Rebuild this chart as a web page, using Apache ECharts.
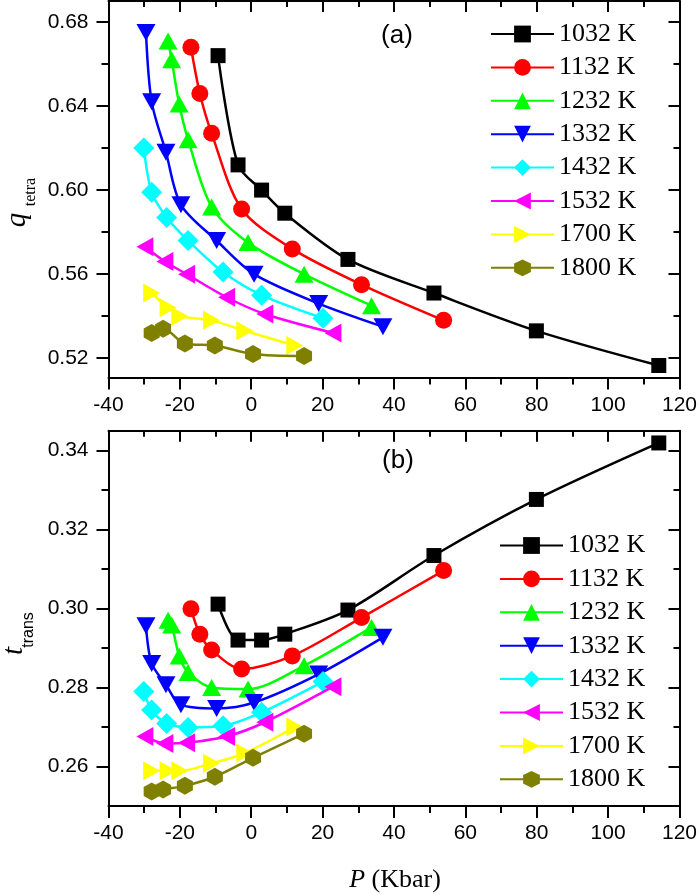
<!DOCTYPE html>
<html>
<head>
<meta charset="utf-8">
<script src="https://cdn.jsdelivr.net/npm/echarts@6/dist/echarts.min.js"></script>
<style>html,body{margin:0;padding:0;background:#fff}#c{width:700px;height:895px}</style>
</head>
<body>
<div id="c"></div>
<script>
// ---------------- data ----------------
const temps = ['1032 K', '1132 K', '1232 K', '1332 K', '1432 K', '1532 K', '1700 K', '1800 K'];

const P_1032 = [-9.3, -3.7, 2.9, 9.4, 27.1, 51.2, 79.9, 114.2];
const P_1132 = [-16.9, -14.4, -11.1, -2.7, 11.5, 30.9, 53.9];
const P_1232 = [-23.3, -22.3, -20.2, -17.7, -11.1, -0.9, 14.8, 33.7];
const P_1332 = [-29.5, -27.9, -23.9, -19.7, -9.7, 0.8, 18.9, 36.9];
const P_1432 = [-30.1, -27.9, -23.7, -17.7, -7.9, 2.9, 20.1];
const P_1532 = [-29.8, -24.2, -18.1, -6.9, 3.8, 22.9];
const P_1700 = [-27.9, -23.3, -20.0, -11.1, -1.8, 12.2];
const P_1800 = [-27.9, -24.7, -18.6, -10.2, 0.5, 14.8];

const q_1032 = [0.664, 0.612, 0.600, 0.589, 0.567, 0.551, 0.533, 0.5165];
const q_1132 = [0.668, 0.646, 0.627, 0.591, 0.572, 0.555, 0.538];
const q_1232 = [0.671, 0.662, 0.641, 0.624, 0.592, 0.575, 0.560, 0.545];
const q_1332 = [0.675, 0.642, 0.618, 0.593, 0.576, 0.560, 0.546, 0.535];
const q_1432 = [0.620, 0.599, 0.587, 0.576, 0.561, 0.550, 0.539];
const q_1532 = [0.573, 0.566, 0.560, 0.549, 0.541, 0.532];
const q_1700 = [0.551, 0.544, 0.540, 0.538, 0.533, 0.526];
const q_1800 = [0.532, 0.534, 0.527, 0.526, 0.522, 0.521];

const t_1032 = [0.3011, 0.2920, 0.2920, 0.2935, 0.2996, 0.3134, 0.3276, 0.3419];
const t_1132 = [0.2999, 0.2935, 0.2895, 0.2847, 0.2880, 0.2977, 0.3096];
const t_1232 = [0.2970, 0.2958, 0.2880, 0.2838, 0.2800, 0.2796, 0.2855, 0.2952];
const t_1332 = [0.2956, 0.2861, 0.2807, 0.2756, 0.2747, 0.2762, 0.2834, 0.2927];
const t_1432 = [0.2790, 0.2743, 0.2709, 0.2699, 0.2703, 0.2737, 0.2815];
const t_1532 = [0.2676, 0.2658, 0.2660, 0.2676, 0.2712, 0.2802];
const t_1700 = [0.2589, 0.2589, 0.2589, 0.2608, 0.2634, 0.2700];
const t_1800 = [0.2537, 0.2542, 0.2551, 0.2574, 0.2622, 0.2683];

const pressures = [P_1032, P_1132, P_1232, P_1332, P_1432, P_1532, P_1700, P_1800];
const qValues = [q_1032, q_1132, q_1232, q_1332, q_1432, q_1532, q_1700, q_1800];
const tValues = [t_1032, t_1132, t_1232, t_1332, t_1432, t_1532, t_1700, t_1800];

const qTicks = [0.52, 0.56, 0.60, 0.64, 0.68];
const qMinorTicks = [0.54, 0.58, 0.62, 0.66];
const tTicks = [0.26, 0.28, 0.30, 0.32, 0.34];
const tMinorTicks = [0.27, 0.29, 0.31, 0.33];

// ---------------- styles ----------------
const HEX = 'path://M8,0 L16,4.5 L16,13.5 L8,18 L0,13.5 L0,4.5 Z';
const styles = [
  { color: '#000000', symbol: 'rect', size: 15, rot: 0 },
  { color: '#FF0000', symbol: 'circle', size: 17, rot: 0 },
  { color: '#00FF00', symbol: 'triangle', size: [19, 17], rot: 0 },
  { color: '#0000FF', symbol: 'triangle', size: [19, 17], rot: 180 },
  { color: '#00FFFF', symbol: 'diamond', size: [21, 21], rot: 0 },
  { color: '#FF00FF', symbol: 'triangle', size: [19, 17], rot: 90 },
  { color: '#FFFF00', symbol: 'triangle', size: [19, 17], rot: -90 },
  { color: '#808000', symbol: HEX, size: [16, 18], rot: 0 }
];

const X_MIN = -40, X_MAX = 120;
const QA_MIN = 0.5108, QA_MAX = 0.69;
const TB_MIN = 0.25, TB_MAX = 0.345;
const SANS = '"Liberation Sans", Arial, sans-serif';
const SERIF = '"Liberation Serif", "Times New Roman", serif';
const BLACK = '#000';

function xAxisPair(grid) {
  return [
    {
      type: 'value', gridIndex: grid, position: 'bottom', min: X_MIN, max: X_MAX, interval: 20,
      axisLine: { onZero: false, lineStyle: { color: BLACK, width: 2 } },
      axisTick: { length: 12, lineStyle: { color: BLACK, width: 2 } },
      minorTick: { show: true, splitNumber: 2, length: 7, lineStyle: { color: BLACK, width: 2 } },
      axisLabel: { fontFamily: SANS, fontSize: 21, color: BLACK, margin: 17 },
      splitLine: { show: false }, minorSplitLine: { show: false }
    },
    {
      type: 'value', gridIndex: grid, position: 'top', min: X_MIN, max: X_MAX, interval: 20,
      axisLine: { onZero: false, lineStyle: { color: BLACK, width: 2 } },
      axisTick: { inside: true, length: 11, lineStyle: { color: BLACK, width: 2 } },
      minorTick: { show: true, splitNumber: 2, length: 6, lineStyle: { color: BLACK, width: 2 } },
      axisLabel: { show: false },
      splitLine: { show: false }, minorSplitLine: { show: false }
    }
  ];
}

function yAxes(grid, min, max, major, minor) {
  const base = { type: 'value', gridIndex: grid, min: min, max: max, splitLine: { show: false } };
  return [
    Object.assign({}, base, {
      position: 'left',
      axisLine: { onZero: false, lineStyle: { color: BLACK, width: 2 } },
      axisTick: { customValues: major, length: 12, lineStyle: { color: BLACK, width: 2 } },
      axisLabel: { customValues: major, formatter: v => v.toFixed(2), fontFamily: SANS, fontSize: 21, color: BLACK, margin: 20 }
    }),
    Object.assign({}, base, {
      position: 'left',
      axisLine: { show: false, onZero: false },
      axisTick: { customValues: minor, length: 7, lineStyle: { color: BLACK, width: 2 } },
      axisLabel: { show: false }
    }),
    Object.assign({}, base, {
      position: 'right',
      axisLine: { onZero: false, lineStyle: { color: BLACK, width: 2 } },
      axisTick: { inside: true, customValues: major, length: 11, lineStyle: { color: BLACK, width: 2 } },
      axisLabel: { show: false }
    }),
    Object.assign({}, base, {
      position: 'right',
      axisLine: { show: false, onZero: false },
      axisTick: { inside: true, customValues: minor, length: 6, lineStyle: { color: BLACK, width: 2 } },
      axisLabel: { show: false }
    })
  ];
}

const series = [];
function addSeries(values, xIdx, yIdx) {
  temps.forEach((name, i) => {
    const s = styles[i];
    series.push({
      name: name, type: 'line', xAxisIndex: xIdx, yAxisIndex: yIdx,
      data: pressures[i].map((p, j) => [p, values[i][j]]),
      smooth: 0.3,
      symbol: s.symbol, symbolSize: s.size, symbolRotate: s.rot,
      showAllSymbol: true,
      lineStyle: { color: s.color, width: 2.5 },
      itemStyle: { color: s.color, opacity: 1 },
      emphasis: { disabled: true },
      z: 2 + i
    });
  });
}
addSeries(qValues, 0, 0);
addSeries(tValues, 2, 4);

function legendAt(left, top) {
  return {
    data: temps, orient: 'vertical', left: left, top: top, padding: 0,
    itemWidth: 63, itemHeight: 21, itemGap: 7.4, selectedMode: false,
    textStyle: { fontFamily: SERIF, fontSize: 26, color: BLACK, lineHeight: 26 }
  };
}

function txt(x, y, text, font, rot, rich) {
  const el = { type: 'text', x: x, y: y, rotation: rot || 0, silent: true,
    style: { text: text, font: font, fill: BLACK, align: 'center', verticalAlign: 'middle' } };
  if (rich) el.style.rich = rich;
  return el;
}

const option = {
  animation: false,
  backgroundColor: '#fff',
  grid: [
    { left: 108.5, right: 20, top: 1, height: 376.5 },
    { left: 108.5, right: 20, top: 430.7, height: 375.3 }
  ],
  xAxis: [].concat(xAxisPair(0), xAxisPair(1)),
  yAxis: [].concat(yAxes(0, QA_MIN, QA_MAX, qTicks, qMinorTicks), yAxes(1, TB_MIN, TB_MAX, tTicks, tMinorTicks)),
  legend: [legendAt(490, 21), legendAt(499, 532.5)],
  series: series,
  graphic: [
    txt(397, 36, '(a)', '26px ' + SANS),
    txt(398, 461, '(b)', '26px ' + SANS),
    txt(17, 220, 'q', 'italic 29px ' + SERIF, Math.PI / 2),
    txt(31, 192, 'tetra', '16px ' + SERIF, Math.PI / 2),
    txt(14, 651, 't', 'italic 29px ' + SERIF, Math.PI / 2),
    txt(29, 630, 'trans', '16px ' + SANS, Math.PI / 2),
    txt(395, 880, '{i|P} {r|(Kbar)}', '26px ' + SERIF, 0, {
      i: { fontFamily: SERIF, fontSize: 26, fontStyle: 'italic' },
      r: { fontFamily: SERIF, fontSize: 26 }
    })
  ]
};

const chart = echarts.init(document.getElementById('c'), null, { renderer: 'canvas' });
chart.setOption(option);
</script>
</body>
</html>
